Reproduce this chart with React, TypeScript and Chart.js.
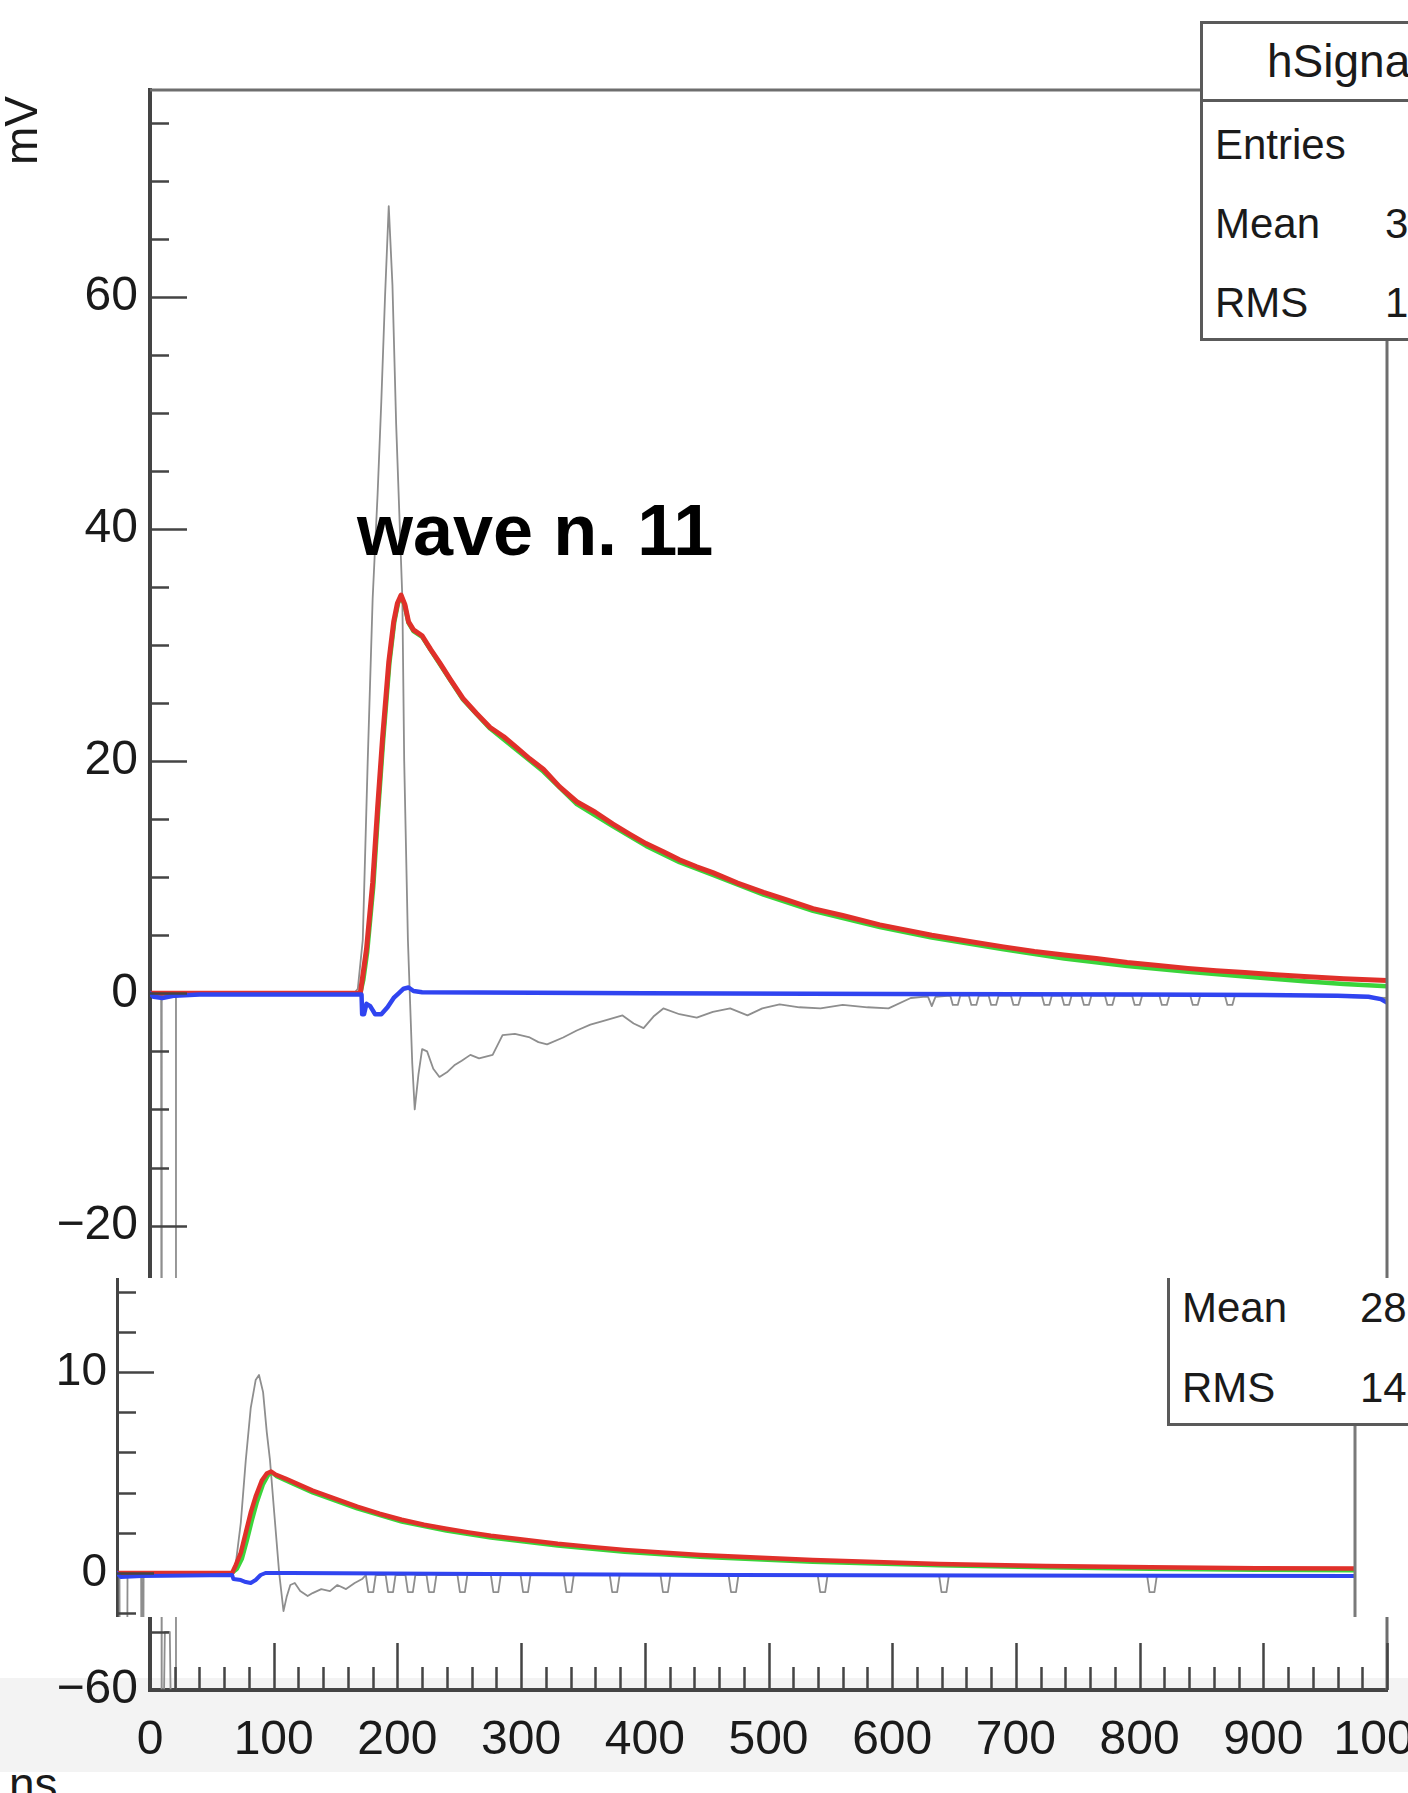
import React, { useEffect, useRef } from "react";
import { Chart, registerables } from "chart.js";

Chart.register(...registerables);

type P = [number, number];

const FONT = "'Liberation Sans', Arial, Helvetica, sans-serif";

// ---------------- data ----------------
const xTickValues = [0, 100, 200, 300, 400, 500, 600, 700, 800, 900, 1000];
const topYTickValues = [-60, -40, -20, 0, 20, 40, 60];
const midYTickValues = [0, 10];

const topTitle = "wave n. 11";
const topStatsTitle = "hSignal";
const topStatsLabels = ["Entries", "Mean", "RMS"];
const topStatsValues = ["", "3", "1"];
const midStatsLabels = ["Mean", "RMS"];
const midStatsValues = ["28", "14"];

// top pad, raw signal (grey)
const topRaw: P[] = [
  [0, 0], [9, 0], [9.5, -75], [12, -55], [16, -55], [18.5, -75], [20.5, -75], [21, 0],
  [165, 0], [168, 0.4], [172, 4.6], [176, 20], [180, 34], [184, 43], [187, 51], [190, 60],
  [193, 67.8], [196, 61], [199, 49], [202, 40], [204, 34], [205.5, 20], [208.5, 4.6], [210, 0],
  [212, -6], [214, -10], [217, -7], [220, -4.8], [224, -5], [229, -6.5], [234, -7.2], [240, -6.8],
  [246, -6.2], [252, -5.8], [259, -5.3], [266, -5.6], [277, -5.3], [285, -3.6], [295, -3.5],
  [307, -3.8], [314, -4.2], [321, -4.4], [334, -3.8], [345, -3.2], [356, -2.7], [366, -2.4],
  [382, -1.9], [391, -2.6], [399, -3.0], [407, -2.0], [415, -1.3], [428, -1.8], [442, -2.1],
  [455, -1.6], [469, -1.3], [483, -1.9], [495, -1.3], [509, -0.95], [525, -1.2], [542, -1.3],
  [560, -1.0], [580, -1.2], [597, -1.3], [615, -0.4], [625, -0.3], [629, -0.3], [632, -1.1],
  [635, -0.3], [647, -0.2], [649, -1.0], [653, -1.0], [655, -0.2], [662, -0.2], [664, -1.0],
  [668, -1.0], [670, -0.2], [678, -0.2], [680, -1.0], [684, -1.0], [686, -0.2], [696, -0.2],
  [698, -1.0], [702, -1.0], [704, -0.2], [721, -0.2], [723, -1.0], [727, -1.0], [729, -0.2],
  [737, -0.2], [739, -1.0], [743, -1.0], [745, -0.2], [753, -0.2], [755, -1.0], [759, -1.0],
  [761, -0.2], [772, -0.2], [774, -1.0], [778, -1.0], [780, -0.2], [794, -0.2], [796, -1.0],
  [800, -1.0], [802, -0.2], [816, -0.2], [818, -1.0], [822, -1.0], [824, -0.2], [841, -0.2],
  [843, -1.0], [847, -1.0], [849, -0.2], [869, -0.2], [871, -1.0], [875, -1.0], [877, -0.2],
  [920, -0.2], [960, -0.3], [1000, -0.4],
];

// top pad, fit (red)
const topFit: P[] = [
  [0, 0], [170, 0], [172, 1.5], [175, 3.8], [180, 9.5], [184, 16], [188, 22], [193, 28.5],
  [197, 32], [200, 33.6], [203, 34.3], [206, 33.5], [209, 32], [213, 31.3], [220, 30.8],
  [227, 29.6], [234, 28.5], [243, 27], [253, 25.4], [264, 24.1], [275, 22.9], [286, 22.1],
  [296, 21.2], [307, 20.2], [318, 19.3], [331, 17.8], [345, 16.5], [360, 15.6], [374, 14.6],
  [388, 13.7], [401, 12.9], [415, 12.2], [428, 11.5], [442, 10.9], [455, 10.4], [475, 9.5],
  [496, 8.7], [516, 8.0], [536, 7.3], [560, 6.7], [590, 5.9], [632, 5.0], [660, 4.5], [690, 4.0],
  [715, 3.6], [739, 3.3], [765, 3.0], [790, 2.65], [815, 2.4], [839, 2.15], [862, 1.95],
  [885, 1.8], [910, 1.6], [933, 1.45], [965, 1.25], [1000, 1.1],
];

// top pad, integrated signal (green)
const topInt: P[] = [
  [0, 0], [170, 0], [172.5, 1.2], [175.5, 3.5], [180.5, 9.2], [184.5, 15.8], [188.5, 21.8],
  [193.5, 28.4], [197.5, 32], [200.5, 33.6], [203, 34.2], [206, 33.4], [209, 31.9], [213, 31.2],
  [220, 30.7], [234, 28.4], [253, 25.3], [275, 22.8], [296, 21.0], [318, 19.1], [345, 16.3],
  [374, 14.4], [401, 12.7], [428, 11.3], [455, 10.2], [496, 8.5], [536, 7.1], [590, 5.7],
  [632, 4.8], [690, 3.8], [739, 3.0], [790, 2.35], [839, 1.85], [885, 1.45], [933, 1.05],
  [965, 0.8], [1000, 0.6],
];

// top pad, residual (blue)
const topRes: P[] = [
  [0, 0], [3, -0.3], [10, -0.4], [20, -0.2], [40, -0.1], [171, -0.1], [171.5, -1.8], [173, -1.8],
  [175, -0.9], [178, -1.1], [182, -1.8], [187, -1.8], [192, -1.2], [197, -0.4], [201, 0],
  [205, 0.4], [209, 0.5], [213, 0.2], [220, 0.1], [400, 0], [600, -0.05], [800, -0.1],
  [900, -0.15], [960, -0.2], [985, -0.3], [995, -0.5], [1000, -0.8],
];

// lower pad, raw signal (grey)
const midRaw: P[] = [
  [0, 0], [2, 0], [2.5, -10], [8, -10], [8.5, 0], [19.5, 0], [20, -10], [21, -10], [21.5, 0],
  [93, 0], [96, 0.5], [100, 2.5], [104, 5.6], [108, 8.2], [112, 9.6], [114.7, 9.85], [118, 9.0],
  [121, 7.0], [123.6, 5.6], [127, 3.0], [131, 0], [134.5, -1.9], [137, -1.2], [140, -0.6],
  [143.6, -0.5], [148, -0.9], [154, -1.15], [158, -1.0], [165, -0.8], [172, -0.9], [178, -0.6],
  [185, -0.8], [192, -0.5], [198, -0.3], [201, -0.1], [203, -0.95], [207, -0.95], [209, -0.1],
  [217, -0.1], [219, -0.95], [223, -0.95], [225, -0.1], [233, -0.1], [235, -0.95], [239, -0.95],
  [241, -0.1], [250, -0.1], [252, -0.95], [256, -0.95], [258, -0.1], [275, -0.1], [277, -0.95],
  [281, -0.95], [283, -0.1], [302, -0.1], [304, -0.95], [308, -0.95], [310, -0.1], [326, -0.1],
  [328, -0.95], [332, -0.95], [334, -0.1], [361, -0.1], [363, -0.95], [367, -0.95], [369, -0.1],
  [398, -0.1], [400, -0.95], [404, -0.95], [406, -0.1], [439, -0.1], [441, -0.95], [445, -0.95],
  [447, -0.1], [494, -0.1], [496, -0.95], [500, -0.95], [502, -0.1], [566, -0.1], [568, -0.95],
  [572, -0.95], [574, -0.1], [664, -0.1], [666, -0.95], [670, -0.95], [672, -0.1], [832, -0.1],
  [834, -0.95], [838, -0.95], [840, -0.1], [1000, -0.1],
];

// lower pad, fit (red)
const midFit: P[] = [
  [0, 0], [93, 0], [96, 0.4], [100, 1.0], [104, 2.0], [108, 3.0], [112, 3.8], [117, 4.6],
  [121, 4.95], [124.5, 5.05], [128, 4.9], [136, 4.7], [147, 4.4], [158, 4.1], [176, 3.7],
  [194, 3.3], [212, 2.95], [230, 2.65], [248, 2.4], [266, 2.2], [284, 2.02], [302, 1.85],
  [329, 1.65], [356, 1.45], [383, 1.3], [410, 1.15], [440, 1.02], [471, 0.9], [516, 0.77],
  [562, 0.65], [613, 0.55], [664, 0.45], [750, 0.35], [835, 0.28], [920, 0.24], [1000, 0.22],
];

// lower pad, integrated signal (green)
const midInt: P[] = [
  [0, 0], [93, 0], [97, 0.2], [101, 0.7], [105, 1.6], [109, 2.6], [113, 3.5], [118, 4.4],
  [122, 4.85], [125, 5.0], [129, 4.8], [136, 4.6], [158, 4.0], [194, 3.2], [230, 2.55],
  [266, 2.1], [302, 1.75], [356, 1.35], [410, 1.05], [471, 0.8], [562, 0.55], [664, 0.37],
  [750, 0.27], [835, 0.2], [920, 0.15], [1000, 0.12],
];

// lower pad, residual (blue)
const midRes: P[] = [
  [0, 0], [3, -0.2], [20, -0.15], [93, -0.1], [94, -0.3], [100, -0.35], [104, -0.45],
  [108, -0.5], [112, -0.35], [116, -0.1], [120, 0], [140, 0], [300, -0.05], [500, -0.1],
  [700, -0.12], [1000, -0.15],
];

// ---------------- helpers ----------------
const fmtTick = (v: number) => (v < 0 ? "\u2212" + Math.abs(v) : String(v));

const line = (label: string, pts: P[], color: string, width: number) => ({
  label,
  data: pts.map(([x, y]) => ({ x, y })),
  borderColor: color,
  backgroundColor: color,
  borderWidth: width,
  borderJoinStyle: "round",
  borderCapStyle: "round",
  pointRadius: 0,
  tension: 0,
  fill: false,
});

const rootAxes = {
  id: "rootAxes",
  afterDraw(chart: any, _a: any, o: any) {
    const { ctx, chartArea } = chart;
    const { left, right, top, bottom } = chartArea;
    const xs = chart.scales.x;
    const ys = chart.scales.y;
    ctx.save();
    ctx.strokeStyle = o.frameColor;
    ctx.lineWidth = o.frameWidth;
    ctx.beginPath();
    if (o.frameTop) {
      ctx.moveTo(left, top);
      ctx.lineTo(right, top);
    }
    if (o.frameRight) {
      ctx.moveTo(right, top);
      ctx.lineTo(right, bottom);
    }
    ctx.stroke();

    ctx.strokeStyle = o.tickColor;
    ctx.lineWidth = o.tickWidth;
    ctx.beginPath();
    const ratioY = Math.round(o.yMajor / o.yMinor);
    const k0 = Math.ceil(ys.min / o.yMinor);
    const k1 = Math.floor(ys.max / o.yMinor);
    for (let k = k0; k <= k1; k++) {
      const py = Math.round(ys.getPixelForValue(k * o.yMinor)) + 0.5;
      const len = Math.abs(k) % ratioY === 0 ? o.yMajorLen : o.yMinorLen;
      ctx.moveTo(left, py);
      ctx.lineTo(left + len, py);
    }
    if (o.showX) {
      const ratioX = Math.round(o.xMajor / o.xMinor);
      const j0 = Math.ceil(xs.min / o.xMinor);
      const j1 = Math.floor(xs.max / o.xMinor);
      for (let j = j0; j <= j1; j++) {
        const px = Math.round(xs.getPixelForValue(j * o.xMinor)) + 0.5;
        const len = Math.abs(j) % ratioX === 0 ? o.xMajorLen : o.xMinorLen;
        ctx.moveTo(px, bottom);
        ctx.lineTo(px, bottom - len);
      }
    }
    ctx.stroke();
    ctx.restore();
  },
};

function ChartCanvas({ config, width, height, style }: any) {
  const ref = useRef<HTMLCanvasElement | null>(null);
  useEffect(() => {
    if (!ref.current) return;
    const c = new Chart(ref.current, config);
    return () => c.destroy();
  }, []);
  return (
    <canvas
      ref={ref}
      width={width}
      height={height}
      style={{ position: "absolute", width, height, ...style }}
    />
  );
}

function Txt({ x, baseline, size, bold, children, color }: any) {
  return (
    <div
      style={{
        position: "absolute",
        left: x,
        top: baseline - 0.8465 * size,
        fontFamily: FONT,
        fontSize: size,
        lineHeight: size + "px",
        fontWeight: bold ? 700 : 400,
        color: color || "#1a1a1a",
        whiteSpace: "pre",
      }}
    >
      {children}
    </div>
  );
}

// ---------------- configs ----------------
const RED = "#e0302a";
const GREEN = "#3ad43a";
const BLUE = "#3044f0";
const GREY = "#8e8e8e";

const topConfig: any = {
  type: "line",
  data: {
    datasets: [
      line("residual", topRes, BLUE, 4.5),
      line("fit", topFit, RED, 5),
      line("integral", topInt, GREEN, 4.5),
      line("raw", topRaw, GREY, 1.8),
    ],
  },
  options: {
    responsive: false,
    animation: false,
    devicePixelRatio: 1,
    layout: { padding: { left: 0, right: 21, top: 90, bottom: 0 } },
    plugins: {
      legend: { display: false },
      tooltip: { enabled: false },
      rootAxes: {
        frameTop: true, frameRight: true, frameColor: "#6e6e6e", frameWidth: 3,
        tickColor: "#444", tickWidth: 2.5,
        yMinor: 5, yMajor: 20, yMajorLen: 37, yMinorLen: 19,
        showX: true, xMinor: 20, xMajor: 100, xMajorLen: 47, xMinorLen: 23,
      },
    },
    scales: {
      x: {
        type: "linear", min: 0, max: 1000, position: "bottom",
        grid: { display: false, drawTicks: false },
        border: { display: true, color: "#444", width: 4 },
        ticks: {
          font: { family: FONT, size: 48 }, color: "#1a1a1a", padding: 22,
          maxRotation: 0, autoSkip: false, callback: (v: number) => fmtTick(v),
        },
        afterBuildTicks: (s: any) => { s.ticks = xTickValues.map((v) => ({ value: v })); },
        afterFit: (s: any) => { s.height = 103; s.paddingLeft = 0; s.paddingRight = 0; },
      },
      y: {
        type: "linear", min: -60, max: 77.8, position: "left",
        grid: { display: false, drawTicks: false },
        border: { display: true, color: "#444", width: 4 },
        ticks: {
          font: { family: FONT, size: 48 }, color: "#1a1a1a", padding: 12,
          autoSkip: false, callback: (v: number) => fmtTick(v),
        },
        afterBuildTicks: (s: any) => { s.ticks = topYTickValues.map((v) => ({ value: v })); },
        afterFit: (s: any) => { s.width = 150; s.paddingTop = 0; s.paddingBottom = 0; },
      },
    },
  },
  plugins: [rootAxes],
};

const midConfig: any = {
  type: "line",
  data: {
    datasets: [
      line("residual", midRes, BLUE, 4),
      line("fit", midFit, RED, 4.5),
      line("integral", midInt, GREEN, 4),
      line("raw", midRaw, GREY, 1.8),
    ],
  },
  options: {
    responsive: false,
    animation: false,
    devicePixelRatio: 1,
    layout: { padding: { left: 0, right: 53, top: 0, bottom: 0 } },
    plugins: {
      legend: { display: false },
      tooltip: { enabled: false },
      rootAxes: {
        frameTop: false, frameRight: true, frameColor: "#7a7a7a", frameWidth: 3,
        tickColor: "#444", tickWidth: 2.5,
        yMinor: 2, yMajor: 10, yMajorLen: 37, yMinorLen: 19,
        showX: false,
      },
    },
    scales: {
      x: { type: "linear", min: 0, max: 1000, display: false },
      y: {
        type: "linear", min: -2.19, max: 14.68, position: "left",
        grid: { display: false, drawTicks: false },
        border: { display: true, color: "#444", width: 3 },
        ticks: {
          font: { family: FONT, size: 46 }, color: "#1a1a1a", padding: 10,
          autoSkip: false, callback: (v: number) => fmtTick(v),
        },
        afterBuildTicks: (s: any) => { s.ticks = midYTickValues.map((v) => ({ value: v })); },
        afterFit: (s: any) => { s.width = 117; s.paddingTop = 0; s.paddingBottom = 0; },
      },
    },
  },
  plugins: [rootAxes],
};

// ---------------- page ----------------
export default function App() {
  return (
    <div
      style={{
        position: "fixed", left: 0, top: 0, width: 1408, height: 1793,
        overflow: "hidden", background: "#ffffff",
      }}
    >
      {/* x title, partly hidden under the grey band */}
      <Txt x={9} baseline={1800} size={46}>ns</Txt>

      {/* light grey band of the screenshot */}
      <div style={{ position: "absolute", left: 0, top: 1678, width: 1408, height: 94, background: "#f3f3f3" }} />

      <ChartCanvas config={topConfig} width={1408} height={1793} style={{ left: 0, top: 0 }} />

      <Txt x={357} baseline={555} size={72} bold color="#000">{topTitle}</Txt>

      {/* y title */}
      <div
        style={{
          position: "absolute", left: 0, top: 0, transformOrigin: "0 0",
          transform: "translate(-2px, 165px) rotate(-90deg)",
          fontFamily: FONT, fontSize: 46, lineHeight: "46px", color: "#1a1a1a", whiteSpace: "pre",
        }}
      >
        mV
      </div>

      {/* top stats box */}
      <div
        style={{
          position: "absolute", left: 1200, top: 21, width: 320, height: 320,
          boxSizing: "border-box", border: "3px solid #5a5a5a", background: "#fff",
        }}
      />
      <div style={{ position: "absolute", left: 1200, top: 99, width: 320, height: 3, background: "#5a5a5a" }} />
      <Txt x={1267} baseline={77} size={46}>{topStatsTitle}</Txt>
      {topStatsLabels.map((l, i) => (
        <React.Fragment key={l}>
          <Txt x={1215} baseline={160 + i * 79} size={42}>{l}</Txt>
          <Txt x={1385} baseline={160 + i * 79} size={42}>{topStatsValues[i]}</Txt>
        </React.Fragment>
      ))}

      {/* pasted lower pad */}
      <div
        style={{
          position: "absolute", left: 0, top: 1278, width: 1408, height: 339,
          overflow: "hidden", background: "#ffffff",
        }}
      >
        <ChartCanvas config={midConfig} width={1408} height={339} style={{ left: 0, top: 0 }} />
        <div
          style={{
            position: "absolute", left: 1167, top: -50, width: 320, height: 198,
            boxSizing: "border-box", border: "3px solid #5a5a5a", background: "#fff",
          }}
        />
        {midStatsLabels.map((l, i) => (
          <React.Fragment key={l}>
            <Txt x={1182} baseline={45 + i * 80} size={42}>{l}</Txt>
            <Txt x={1360} baseline={45 + i * 80} size={42}>{midStatsValues[i]}</Txt>
          </React.Fragment>
        ))}
      </div>
    </div>
  );
}
